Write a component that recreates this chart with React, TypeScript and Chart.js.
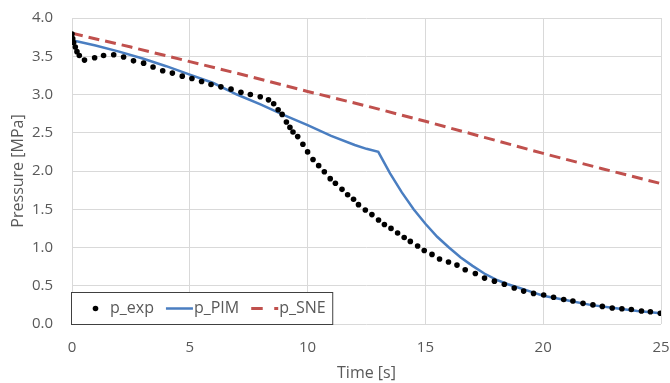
import React, { useEffect, useRef } from "react";
import { Chart, registerables } from "chart.js";

Chart.register(...registerables);

// Experimental pressure (dots)
const expTime = [
  0, 0.03, 0.07, 0.14, 0.21, 0.31, 0.53, 0.96, 1.34, 1.77, 2.19, 2.61, 3.04, 3.44, 3.85, 4.26, 4.68,
  5.09, 5.5, 5.9, 6.32, 6.75, 7.17, 7.57, 7.99, 8.34, 8.56, 8.75, 8.92, 9.1, 9.25, 9.38, 9.58, 9.8,
  10.0, 10.23, 10.47, 10.71, 10.96, 11.18, 11.46, 11.7, 11.95, 12.16, 12.45, 12.73, 13.01, 13.26,
  13.54, 13.82, 14.1, 14.36, 14.67, 14.95, 15.28, 15.6, 15.98, 16.34, 16.69, 17.12, 17.51, 17.93,
  18.35, 18.77, 19.17, 19.59, 20.02, 20.44, 20.87, 21.26, 21.69, 22.11, 22.51, 22.93, 23.34, 23.74,
  24.17, 24.55, 24.97,
];
const expPressure = [
  3.79, 3.73, 3.68, 3.62, 3.56, 3.51, 3.45, 3.48, 3.51, 3.52, 3.49, 3.44, 3.41, 3.36, 3.31, 3.28, 3.24,
  3.21, 3.17, 3.13, 3.1, 3.07, 3.03, 3.0, 2.97, 2.93, 2.88, 2.8, 2.74, 2.64, 2.57, 2.51, 2.45, 2.35,
  2.25, 2.15, 2.07, 1.99, 1.9, 1.84, 1.76, 1.69, 1.63, 1.56, 1.49, 1.43, 1.36, 1.3,
  1.25, 1.19, 1.13, 1.08, 1.02, 0.96, 0.91, 0.85, 0.81, 0.77, 0.71, 0.66, 0.6, 0.56,
  0.52, 0.47, 0.43, 0.4, 0.38, 0.35, 0.32, 0.3, 0.27, 0.25, 0.23, 0.21, 0.2, 0.19,
  0.17, 0.16, 0.14,
];

// PIM model (solid blue)
const pimTime = [
  0, 1, 2, 3, 4, 5, 6, 7, 8, 9, 10, 11, 12, 12.5, 13, 13.5, 14, 14.5, 15, 15.5, 16, 16.5, 17, 17.5,
  18, 18.5, 19, 19.5, 20, 21, 22, 23, 24, 25,
];
const pimPressure = [
  3.71, 3.64, 3.56, 3.47, 3.37, 3.26, 3.15, 3.0, 2.87, 2.73, 2.6, 2.46, 2.34, 2.29, 2.25, 1.97, 1.72,
  1.5, 1.31, 1.14, 1.0, 0.87, 0.76, 0.66, 0.58, 0.52, 0.47, 0.42, 0.37, 0.31, 0.25, 0.21, 0.17, 0.14,
];

// SNE model (red dashed)
const sneTime = [0, 2.5, 5, 7.5, 10, 12.5, 15, 17.5, 20, 22.5, 25];
const snePressure = [3.8, 3.62, 3.43, 3.24, 3.04, 2.85, 2.65, 2.44, 2.23, 2.03, 1.835];

const seriesLabels = ["p_exp", "p_PIM", "p_SNE"];
const xTicks = [0, 5, 10, 15, 20, 25];
const yTicks = [0, 0.5, 1, 1.5, 2, 2.5, 3, 3.5, 4];

const FONT = "'Open Sans', 'Liberation Sans', sans-serif";
const TEXT = "#595959";
const BLUE = "#4A7EC1";
const RED = "#C0504D";

const toPts = (xs: number[], ys: number[]) => xs.map((x, i) => ({ x, y: ys[i] }));

const legendPlugin = {
  id: "insideLegend",
  afterDraw(chart: any) {
    const { ctx, chartArea } = chart;
    const boxLeft = chartArea.left - 0.5;
    const boxTop = chartArea.bottom - 31.5;
    const boxH = 32;
    const cy = boxTop + boxH / 2;
    ctx.save();
    ctx.font = `16px ${FONT}`;
    const symW = 27;
    let cursor = chartArea.left + 10;
    const items: any[] = [];
    chart.data.datasets.forEach((ds: any, i: number) => {
      const tw = ctx.measureText(ds.label).width;
      items.push({ ds, i, sx: cursor, tx: cursor + symW + 1, tw });
      cursor = cursor + symW + 1 + tw + 12;
    });
    const last = items[items.length - 1];
    const boxRight = last.tx + last.tw + 7;
    ctx.fillStyle = "#ffffff";
    ctx.fillRect(boxLeft, boxTop, boxRight - boxLeft, boxH);
    ctx.strokeStyle = "#404040";
    ctx.lineWidth = 1;
    ctx.strokeRect(boxLeft, boxTop, boxRight - boxLeft, boxH);
    items.forEach((it) => {
      const ds = it.ds;
      if (ds.showLine === false) {
        ctx.fillStyle = ds.pointBackgroundColor;
        ctx.beginPath();
        ctx.arc(it.sx + symW / 2, cy, 2.8, 0, Math.PI * 2);
        ctx.fill();
      } else {
        ctx.strokeStyle = ds.borderColor;
        ctx.lineWidth = ds.borderWidth;
        ctx.setLineDash(ds.borderDash && ds.borderDash.length ? [11.5, 11.5] : []);
        ctx.beginPath();
        ctx.moveTo(it.sx, cy);
        ctx.lineTo(it.sx + symW, cy);
        ctx.stroke();
        ctx.setLineDash([]);
      }
      ctx.fillStyle = TEXT;
      ctx.textBaseline = "middle";
      ctx.textAlign = "left";
      ctx.fillText(ds.label, it.tx, cy);
    });
    ctx.restore();
  },
};

export default function App() {
  const ref = useRef<HTMLCanvasElement | null>(null);

  useEffect(() => {
    if (!ref.current) return;
    const chart = new Chart(ref.current, {
      type: "scatter",
      data: {
        datasets: [
          {
            label: seriesLabels[0],
            data: toPts(expTime, expPressure),
            showLine: false,
            pointRadius: 2.8,
            pointBackgroundColor: "#000000",
            pointBorderWidth: 0,
            borderColor: "#000000",
            order: 0,
          },
          {
            label: seriesLabels[1],
            data: toPts(pimTime, pimPressure),
            showLine: true,
            pointRadius: 0,
            borderColor: BLUE,
            borderWidth: 2.5,
            tension: 0,
            order: 1,
          },
          {
            label: seriesLabels[2],
            data: toPts(sneTime, snePressure),
            showLine: true,
            pointRadius: 0,
            borderColor: RED,
            borderWidth: 3,
            borderDash: [11, 6],
            tension: 0,
            order: 2,
          },
        ] as any,
      },
      options: {
        animation: false,
        responsive: false,
        maintainAspectRatio: false,
        layout: { padding: { left: 0, right: 9, top: 18, bottom: 0 } },
        plugins: {
          legend: { display: false },
          tooltip: { enabled: false },
        },
        scales: {
          x: {
            type: "linear",
            min: 0,
            max: 25,
            afterBuildTicks: (s: any) => {
              s.ticks = xTicks.map((v) => ({ value: v }));
            },
            afterFit: (s: any) => {
              s.height = 59;
              s.paddingLeft = 0;
              s.paddingRight = 0;
            },
            ticks: {
              color: TEXT,
              font: { family: FONT, size: 15 },
              padding: 15,
              maxRotation: 0,
              callback: (v: any) => String(v),
            },
            grid: { color: "#D9D9D9", lineWidth: 1, drawTicks: false },
            border: { display: false },
            title: {
              display: true,
              text: "Time [s]",
              color: TEXT,
              font: { family: FONT, size: 16 },
              padding: { top: 0, bottom: 0 },
            },
          },
          y: {
            type: "linear",
            min: 0,
            max: 4,
            afterBuildTicks: (s: any) => {
              s.ticks = yTicks.map((v) => ({ value: v }));
            },
            afterFit: (s: any) => {
              s.width = 72;
              s.paddingTop = 0;
              s.paddingBottom = 0;
            },
            ticks: {
              color: TEXT,
              font: { family: FONT, size: 15 },
              padding: 19,
              callback: (v: any) => Number(v).toFixed(1),
            },
            grid: { color: "#D9D9D9", lineWidth: 1, drawTicks: false },
            border: { display: false },
            title: {
              display: true,
              text: "Pressure [MPa]",
              color: TEXT,
              font: { family: FONT, size: 16 },
              padding: { top: 9, bottom: 0 },
            },
          },
        },
      },
      plugins: [legendPlugin],
    });
    return () => chart.destroy();
  }, []);

  return (
    <div style={{ position: "absolute", left: 0, top: 0, width: 670, height: 383, background: "#fff" }}>
      <canvas ref={ref} width={670} height={383} style={{ display: "block" }} />
    </div>
  );
}
